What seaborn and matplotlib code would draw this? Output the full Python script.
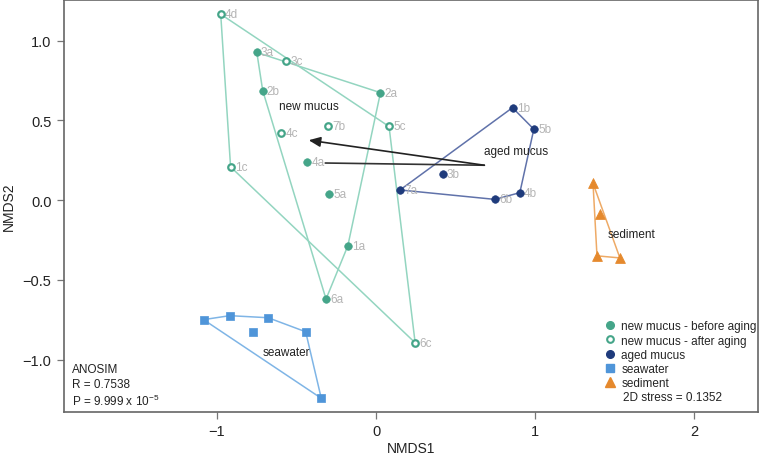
import matplotlib
matplotlib.use('Agg')
import matplotlib.pyplot as plt
from matplotlib.lines import Line2D
import seaborn as sns
import pandas as pd

# NMDS scores
before_labels = ['3a', '2b', '2a', '4a', '5a', '1a', '6a']
before_x = [-0.750, -0.713, 0.027, -0.433, -0.297, -0.178, -0.315]
before_y = [0.925, 0.686, 0.673, 0.241, 0.038, -0.287, -0.621]

after_labels = ['4d', '3c', '7b', '5c', '4c', '1c', '6c']
after_x = [-0.977, -0.564, -0.301, 0.081, -0.596, -0.915, 0.245]
after_y = [1.165, 0.870, 0.463, 0.461, 0.419, 0.208, -0.895]

aged_labels = ['1b', '5b', '3b', '7a', '4b', '6b']
aged_x = [0.857, 0.991, 0.418, 0.150, 0.903, 0.746]
aged_y = [0.579, 0.444, 0.161, 0.063, 0.046, 0.004]

sea_x = [-1.085, -0.920, -0.679, -0.777, -0.443, -0.345]
sea_y = [-0.750, -0.725, -0.738, -0.826, -0.826, -1.243]

sed_x = [1.363, 1.404, 1.388, 1.532]
sed_y = [0.105, -0.088, -0.350, -0.363]

# aging vector (envfit-like arrow) and its companion line
arrow_tail = (0.680, 0.218)
arrow_head = (-0.424, 0.375)
line_end = (-0.320, 0.232)

group_text = {'new mucus': (-0.424, 0.587), 'aged mucus': (0.882, 0.306),
              'seawater': (-0.564, -0.952), 'sediment': (1.603, -0.21)}

teal = '#45a589'
teal_line = '#93d5c0'
navy = '#1f3b7c'
navy_line = '#6072aa'
blue = '#4f95d9'
blue_line = '#7fb5e6'
orange = '#e5892d'
orange_line = '#eeaa66'
lab_grey = '#b4b4b4'

sns.set_style('white')
plt.rcParams['font.family'] = ['Liberation Sans', 'DejaVu Sans']
plt.rcParams['mathtext.fontset'] = 'custom'
plt.rcParams['mathtext.rm'] = 'Liberation Sans'
plt.rcParams['mathtext.it'] = 'Liberation Sans'


def hull(xs, ys):
    pts = sorted(set(zip(xs, ys)))

    def cross(o, a, b):
        return (a[0] - o[0]) * (b[1] - o[1]) - (a[1] - o[1]) * (b[0] - o[0])
    lower, upper = [], []
    for p in pts:
        while len(lower) >= 2 and cross(lower[-2], lower[-1], p) <= 0:
            lower.pop()
        lower.append(p)
    for p in reversed(pts):
        while len(upper) >= 2 and cross(upper[-2], upper[-1], p) <= 0:
            upper.pop()
        upper.append(p)
    h = lower[:-1] + upper[:-1]
    h.append(h[0])
    return [p[0] for p in h], [p[1] for p in h]


fig = plt.figure(figsize=(7.6, 4.6), dpi=100)
ax = fig.add_axes([64 / 760, 47 / 460, 694 / 760, 412 / 460])

# hulls
for xs, ys, c in [(before_x, before_y, teal_line), (after_x, after_y, teal_line),
                  (aged_x, aged_y, navy_line), (sea_x, sea_y, blue_line),
                  (sed_x, sed_y, orange_line)]:
    hx, hy = hull(xs, ys)
    ax.plot(hx, hy, color=c, lw=1.1, zorder=1)

# arrow
ax.plot([arrow_tail[0], line_end[0]], [arrow_tail[1], line_end[1]],
        color='#333333', lw=1.2, zorder=2)
ax.annotate('', xy=arrow_head, xytext=arrow_tail,
            arrowprops=dict(arrowstyle='-|>,head_length=0.7,head_width=0.3',
                            color='#222222', lw=1.2, shrinkA=0, shrinkB=0),
            zorder=2)

sns.scatterplot(x=before_x, y=before_y, color=teal, edgecolor=teal, s=30,
                marker='o', ax=ax, zorder=3)
sns.scatterplot(x=after_x, y=after_y, color='white', edgecolor=teal, s=22,
                linewidth=1.6, marker='o', ax=ax, zorder=3)
sns.scatterplot(x=aged_x, y=aged_y, color=navy, edgecolor=navy, s=30,
                marker='o', ax=ax, zorder=3)
sns.scatterplot(x=sea_x, y=sea_y, color=blue, edgecolor=blue, s=38,
                marker='s', ax=ax, zorder=3)
sns.scatterplot(x=sed_x, y=sed_y, color=orange, edgecolor=orange, s=50,
                marker='^', ax=ax, zorder=3)

for labs, xs, ys in [(before_labels, before_x, before_y),
                     (after_labels, after_x, after_y),
                     (aged_labels, aged_x, aged_y)]:
    for t, x, y in zip(labs, xs, ys):
        ax.annotate(t, (x, y), xytext=(3, 0), textcoords='offset points',
                    ha='left', va='center', fontsize=8.5, color=lab_grey, zorder=2)

for t, (x, y) in group_text.items():
    ax.text(x, y, t, ha='center', va='center', fontsize=8.5, color='#222222', zorder=4)

ax.set_xlim(-1.962, 2.40)
ax.set_ylim(-1.329, 1.254)
ax.set_xticks([-1, 0, 1, 2])
ax.set_yticks([-1.0, -0.5, 0.0, 0.5, 1.0])
ax.set_yticklabels(['\u22121.0', '\u22120.5', '0.0', '0.5', '1.0'])
ax.set_xticklabels(['\u22121', '0', '1', '2'])
ax.tick_params(direction='out', length=5, width=0.9, color='#777777',
               labelsize=10.5, labelcolor='#222222', pad=4,
               bottom=True, left=True)
for s in ax.spines.values():
    s.set_color('#666666')
    s.set_linewidth(1.2)
ax.set_xlabel('NMDS1', fontsize=10, color='#222222', labelpad=2)
ax.set_ylabel('NMDS2', fontsize=10, color='#222222', labelpad=5)

ax.text(0.0115, 0.118, 'ANOSIM\nR = 0.7538\nP = 9.999 x 10$^{-5}$', transform=ax.transAxes,
        ha='left', va='top', fontsize=8.5, color='#222222', linespacing=1.25)
ax.text(0.8055, 0.036, '2D stress = 0.1352', transform=ax.transAxes,
        ha='left', va='center', fontsize=8.5, color='#222222')

handles = [
    Line2D([], [], marker='o', ls='', color=teal, markersize=5.5),
    Line2D([], [], marker='o', ls='', markerfacecolor='white', markeredgecolor=teal,
           markeredgewidth=1.5, markersize=4.8),
    Line2D([], [], marker='o', ls='', color=navy, markersize=5.5),
    Line2D([], [], marker='s', ls='', color=blue, markersize=5.5),
    Line2D([], [], marker='^', ls='', color=orange, markersize=6.5),
]
names = ['new mucus - before aging', 'new mucus - after aging', 'aged mucus',
         'seawater', 'sediment']
ax.legend(handles, names, loc='upper left', bbox_to_anchor=(0.776, 0.228),
          frameon=False, fontsize=8.5, handlelength=0.8, handletextpad=0.6,
          labelspacing=0.18, borderaxespad=0, borderpad=0.2)

fig.savefig('out.png', dpi=100)
